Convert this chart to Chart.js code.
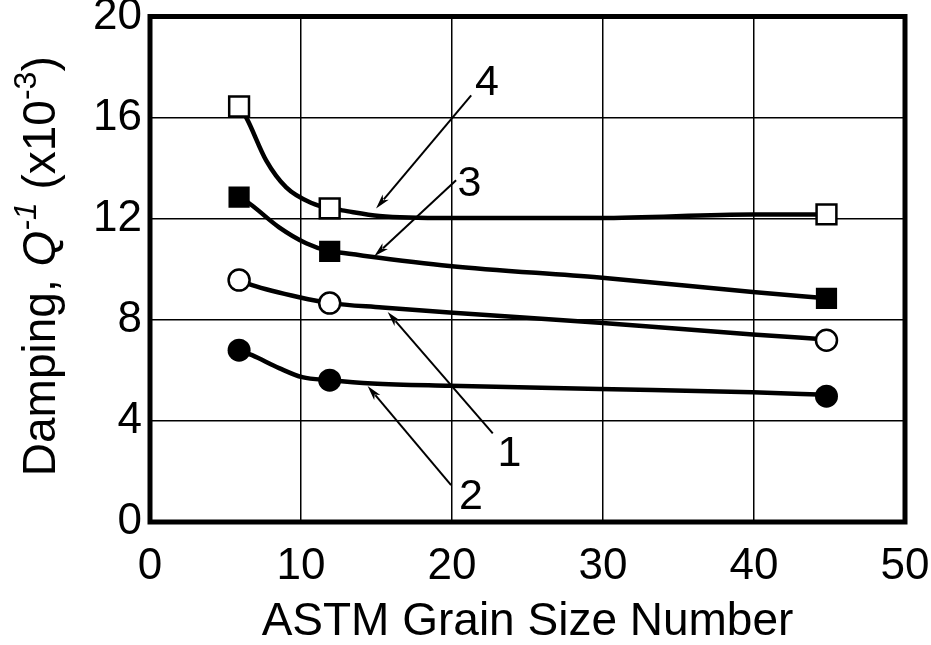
<!DOCTYPE html>
<html><head><meta charset="utf-8">
<script src="https://cdn.jsdelivr.net/npm/chart.js@4/dist/chart.umd.min.js"></script>
<style>html,body{margin:0;padding:0;background:#fff;} canvas{display:block;}</style>
</head><body>
<canvas id="c" width="931" height="645"></canvas>
<script>
// ---- data ----
const xTicks = [0, 10, 20, 30, 40, 50];
const yTicks = [0, 4, 8, 12, 16, 20];
const xTitle = 'ASTM Grain Size Number';
const yTitleParts = [
  { t: 'Damping, ', italic: false, sup: false },
  { t: 'Q', italic: true, sup: false },
  { t: '-1', italic: true, sup: true },
  { t: ' (x10', italic: false, sup: false },
  { t: '-3', italic: false, sup: true },
  { t: ')', italic: false, sup: false }
];

const markerX = [5.9, 11.9, 44.8];
const series1 = [9.57, 8.66, 7.19];   // open circles  (curve 1)
const series2 = [6.80, 5.61, 4.98];   // filled circles (curve 2)
const series3 = [12.85, 10.71, 8.85]; // filled squares (curve 3)
const series4 = [16.44, 12.41, 12.17];// open squares  (curve 4)

const fit1X = [5.9, 6.76, 9.88, 11.9, 15.38, 19.83, 29.77, 39.92, 44.8];
const fit1Y = [9.57, 9.37, 8.89, 8.66, 8.49, 8.29, 7.88, 7.42, 7.22];
const fit2X = [5.9, 6.76, 8.55, 10.08, 11.9, 14.72, 19.83, 29.77, 39.92, 44.8];
const fit2Y = [6.80, 6.60, 6.09, 5.73, 5.61, 5.48, 5.39, 5.26, 5.13, 5.03];
const fit3X = [5.9, 6.56, 8.55, 10.34, 11.9, 12.53, 19.83, 29.77, 39.92, 44.8];
const fit3Y = [12.85, 12.61, 11.66, 11.03, 10.71, 10.66, 10.13, 9.67, 9.10, 8.85];
const fit4X = [5.9, 6.37, 7.69, 9.02, 10.74, 11.9, 12.73, 15.19, 19.83, 29.77, 39.92, 44.8];
const fit4Y = [16.44, 16.01, 14.31, 13.24, 12.61, 12.41, 12.33, 12.11, 12.03, 12.03, 12.17, 12.17];

const arrowLabels = ['1', '2', '3', '4'];
const arrowTailX = [22.7, 19.94, 20.27, 21.27];
const arrowTailY = [3.51, 1.46, 13.52, 16.88];
const arrowTipX = [15.74, 14.41, 14.85, 14.97];
const arrowTipY = [8.31, 5.38, 10.51, 12.40];
const labelX = [23.8, 21.25, 21.15, 22.31];
const labelY = [2.69, 0.97, 13.36, 17.37];

// ---- helpers ----
const FONT = "'Liberation Sans', Arial, Helvetica, sans-serif";
const pts = (xs, ys) => xs.map((x, i) => ({ x: x, y: ys[i] }));

const framePlugin = {
  id: 'frame',
  beforeDatasetsDraw(chart) {
    const { ctx, chartArea: a } = chart;
    ctx.save();
    ctx.strokeStyle = '#000';
    ctx.lineWidth = 5;
    ctx.strokeRect(a.left, a.top, a.right - a.left, a.bottom - a.top);
    ctx.restore();
  }
};

const arrowPlugin = {
  id: 'arrows',
  afterDatasetsDraw(chart) {
    const { ctx, scales: { x, y } } = chart;
    ctx.save();
    ctx.strokeStyle = '#000';
    ctx.fillStyle = '#000';
    ctx.lineWidth = 2;
    for (let i = 0; i < arrowLabels.length; i++) {
      const x1 = x.getPixelForValue(arrowTailX[i]), y1 = y.getPixelForValue(arrowTailY[i]);
      const x2 = x.getPixelForValue(arrowTipX[i]), y2 = y.getPixelForValue(arrowTipY[i]);
      const ang = Math.atan2(y2 - y1, x2 - x1);
      const hl = 15, hw = 4;
      const bx = x2 - hl * Math.cos(ang), by = y2 - hl * Math.sin(ang);
      ctx.beginPath();
      ctx.moveTo(x1, y1);
      ctx.lineTo(bx + 3 * Math.cos(ang), by + 3 * Math.sin(ang));
      ctx.stroke();
      ctx.beginPath();
      ctx.moveTo(x2, y2);
      ctx.lineTo(bx - hw * Math.sin(ang), by + hw * Math.cos(ang));
      ctx.lineTo(bx + 4 * Math.cos(ang), by + 4 * Math.sin(ang));
      ctx.lineTo(bx + hw * Math.sin(ang), by - hw * Math.cos(ang));
      ctx.closePath();
      ctx.fill();
      ctx.font = '43px ' + FONT;
      ctx.textAlign = 'center';
      ctx.textBaseline = 'middle';
      ctx.fillText(arrowLabels[i], x.getPixelForValue(labelX[i]), y.getPixelForValue(labelY[i]));
    }
    ctx.restore();
  }
};

const yTitlePlugin = {
  id: 'ytitle',
  afterDraw(chart) {
    const { ctx, chartArea: a } = chart;
    const size = 46, supSize = 32;
    const fontFor = p => (p.italic ? 'italic ' : '') + (p.sup ? supSize : size) + 'px ' + FONT;
    ctx.save();
    let total = 0;
    const widths = yTitleParts.map(p => { ctx.font = fontFor(p); const w = ctx.measureText(p.t).width; total += w; return w; });
    ctx.translate(38.5, (a.top + a.bottom) / 2 - 3);
    ctx.rotate(-Math.PI / 2);
    ctx.fillStyle = '#000';
    ctx.textBaseline = 'alphabetic';
    ctx.textAlign = 'left';
    let cx = -total / 2;
    const base = size * 0.36;
    yTitleParts.forEach((p, i) => {
      ctx.font = fontFor(p);
      ctx.fillText(p.t, cx, p.sup ? base - size * 0.42 : base);
      cx += widths[i];
    });
    ctx.restore();
  }
};

const lineDs = (xs, ys) => ({
  data: pts(xs, ys), showLine: true, pointRadius: 0, pointHoverRadius: 0,
  borderColor: '#000', borderWidth: 4.5, cubicInterpolationMode: 'monotone', order: 2
});
const markDs = (vals, style, radius, filled, bw) => ({
  data: pts(markerX, vals), showLine: false, pointStyle: style, pointRadius: radius,
  pointHoverRadius: radius, pointBackgroundColor: filled ? '#000' : '#fff',
  pointBorderColor: '#000', pointBorderWidth: bw, order: 1
});

new Chart(document.getElementById('c'), {
  type: 'scatter',
  data: {
    datasets: [
      lineDs(fit1X, fit1Y), lineDs(fit2X, fit2Y), lineDs(fit3X, fit3Y), lineDs(fit4X, fit4Y),
      markDs(series1, 'circle', 10.5, false, 2.5),
      markDs(series2, 'circle', 11.5, true, 0),
      markDs(series3, 'rect', 15, true, 0),
      markDs(series4, 'rect', 14, false, 2.5)
    ]
  },
  options: {
    responsive: false, animation: false, devicePixelRatio: 1,
    layout: { padding: { top: 15, right: 26, left: 0, bottom: 0 } },
    plugins: { legend: { display: false }, tooltip: { enabled: false } },
    scales: {
      x: {
        type: 'linear', min: xTicks[0], max: xTicks[xTicks.length - 1],
        afterBuildTicks: s => { s.ticks = xTicks.map(v => ({ value: v })); },
        afterFit: s => { s.height = 123; s.paddingLeft = 0; s.paddingRight = 0; },
        ticks: { color: '#000', font: { family: FONT, size: 44 }, padding: 18, maxRotation: 0, autoSkip: false },
        grid: { color: '#000', lineWidth: 1.5, drawTicks: false },
        border: { display: false },
        title: { display: true, text: xTitle, color: '#000', font: { family: FONT, size: 46, lineHeight: 1 }, padding: { top: 0, bottom: 0 } }
      },
      y: {
        type: 'linear', min: yTicks[0], max: yTicks[yTicks.length - 1],
        afterBuildTicks: s => { s.ticks = yTicks.map(v => ({ value: v })); },
        afterFit: s => { s.width = 150; s.paddingTop = 0; s.paddingBottom = 0; },
        ticks: { color: '#000', font: { family: FONT, size: 44 }, padding: 8, autoSkip: false },
        grid: { color: '#000', lineWidth: 1.5, drawTicks: false },
        border: { display: false },
        title: { display: false }
      }
    }
  },
  plugins: [framePlugin, arrowPlugin, yTitlePlugin]
});
</script>
</body></html>
